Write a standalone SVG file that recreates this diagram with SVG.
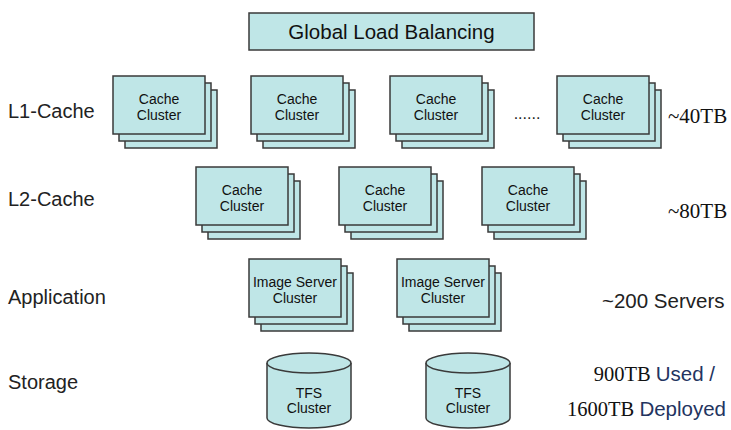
<svg xmlns="http://www.w3.org/2000/svg" width="731" height="430" viewBox="0 0 731 430">
<defs>
<style>
.b{fill:#bfe6e7;stroke:#3a3a3a;stroke-width:1.5}
.t{font-family:"Liberation Sans",Arial,sans-serif;font-size:14px;fill:#111;text-anchor:middle}
.lab{font-family:"Liberation Sans",Arial,sans-serif;font-size:20px;fill:#222}
.ser{font-family:"Liberation Serif","Times New Roman",serif;font-size:21px;fill:#111}
.blu{font-family:"Liberation Sans",Arial,sans-serif;font-size:20.5px;fill:#23345f}
</style>
<g id="stack">
<rect class="b" x="12" y="14" width="92" height="58"/>
<rect class="b" x="6" y="7" width="92" height="58"/>
<rect class="b" x="0" y="0" width="92" height="58"/>
</g>
<g id="cyl">
<path class="b" d="M-42 0 V55 A42 10 0 0 0 42 55 V0"/>
<ellipse class="b" cx="0" cy="0" rx="42" ry="10"/>
</g>
</defs>
<rect width="731" height="430" fill="#fff"/>
<g id="glb">
<rect class="b" x="249" y="13" width="285" height="37"/>
<text x="391.5" y="39" text-anchor="middle" style="font-family:'Liberation Sans',Arial,sans-serif;font-size:20.5px;fill:#111">Global Load Balancing</text>
</g>
<g id="labels">
<text class="lab" x="8" y="118">L1-Cache</text>
<text class="lab" x="8" y="206">L2-Cache</text>
<text class="lab" x="8" y="304">Application</text>
<text class="lab" x="8" y="389">Storage</text>
<text class="ser" x="668" y="123">~40TB</text>
<text class="ser" x="668" y="218">~80TB</text>
<text class="lab" x="602" y="308" style="font-size:20.5px">~200 Servers</text>
<text x="715" y="381" text-anchor="end"><tspan class="ser" style="font-size:20.5px">900TB </tspan><tspan class="blu">Used /</tspan></text>
<text x="726" y="416" text-anchor="end"><tspan class="ser" style="font-size:20.5px">1600TB </tspan><tspan class="blu">Deployed</tspan></text>
<text x="527" y="119" text-anchor="middle" style="font-family:'Liberation Sans',Arial,sans-serif;font-size:16px;fill:#222">......</text>
</g>
<g id="l1-1"><use href="#stack" x="113" y="76"/><text class="t" x="159" y="104">Cache</text><text class="t" x="159" y="120">Cluster</text></g>
<g id="l1-2"><use href="#stack" x="251" y="76"/><text class="t" x="297" y="104">Cache</text><text class="t" x="297" y="120">Cluster</text></g>
<g id="l1-3"><use href="#stack" x="390" y="76"/><text class="t" x="436" y="104">Cache</text><text class="t" x="436" y="120">Cluster</text></g>
<g id="l1-4"><use href="#stack" x="557" y="76"/><text class="t" x="603" y="104">Cache</text><text class="t" x="603" y="120">Cluster</text></g>
<g id="l2-1"><use href="#stack" x="196" y="167"/><text class="t" x="242" y="195">Cache</text><text class="t" x="242" y="211">Cluster</text></g>
<g id="l2-2"><use href="#stack" x="339" y="167"/><text class="t" x="385" y="195">Cache</text><text class="t" x="385" y="211">Cluster</text></g>
<g id="l2-3"><use href="#stack" x="482" y="167"/><text class="t" x="528" y="195">Cache</text><text class="t" x="528" y="211">Cluster</text></g>
<g id="app-1"><use href="#stack" x="249" y="259"/><text class="t" x="295" y="287">Image Server</text><text class="t" x="295" y="303">Cluster</text></g>
<g id="app-2"><use href="#stack" x="397" y="259"/><text class="t" x="443" y="287">Image Server</text><text class="t" x="443" y="303">Cluster</text></g>
<g id="tfs-1"><use href="#cyl" x="309" y="363"/><text class="t" x="309" y="398">TFS</text><text class="t" x="309" y="413">Cluster</text></g>
<g id="tfs-2"><use href="#cyl" x="468" y="363"/><text class="t" x="468" y="398">TFS</text><text class="t" x="468" y="413">Cluster</text></g>
<g id="connectors"></g>
</svg>
